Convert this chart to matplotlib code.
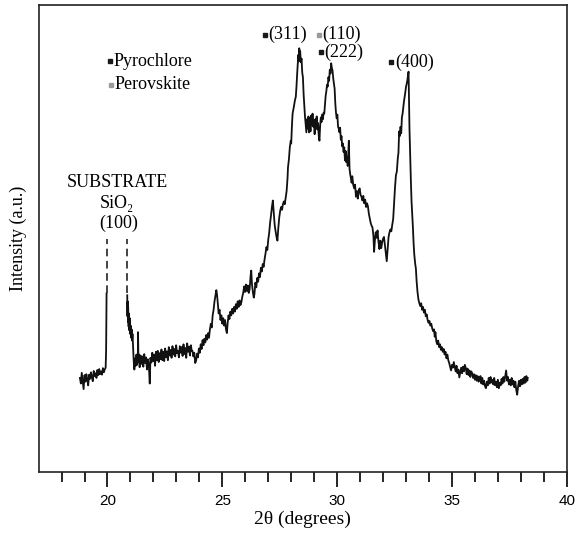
import numpy as np
import matplotlib
matplotlib.use("Agg")
import matplotlib.pyplot as plt
from matplotlib.ticker import MultipleLocator

# scan before the substrate reflection (2theta in degrees, intensity a.u.)
tt_low = [18.80, 18.84, 18.88, 18.92, 18.96, 19.00, 19.04, 19.08, 19.12, 19.16,
          19.20, 19.24, 19.28, 19.32, 19.36, 19.40, 19.44, 19.48, 19.52, 19.56,
          19.60, 19.64, 19.68, 19.72, 19.76, 19.80, 19.84, 19.88, 19.92, 19.94, 19.96]
i_low = [20.2, 19.0, 21.3, 19.6, 17.8, 20.8, 19.4, 21.0, 19.9, 18.6,
         20.9, 20.0, 21.4, 20.3, 19.5, 21.7, 20.6, 21.2, 20.2, 21.9,
         20.8, 22.1, 21.0, 21.6, 20.9, 22.3, 21.4, 22.0, 22.4, 26.0, 38.3]

# scan after the substrate reflection
tt_high = [
    20.86, 20.87, 20.88, 20.89, 20.90, 20.92, 20.93, 20.95, 20.97, 20.99,
    21.01, 21.03, 21.05, 21.07, 21.09, 21.11, 21.14, 21.17, 21.20, 21.23,
    21.26, 21.29, 21.32, 21.33, 21.35, 21.38,
    21.40, 21.44, 21.48, 21.52, 21.56, 21.60, 21.64, 21.68, 21.72, 21.76,
    21.80, 21.84, 21.87, 21.91, 21.95, 21.99, 22.03, 22.07, 22.11, 22.15,
    22.19, 22.23, 22.27, 22.31, 22.35, 22.39, 22.43, 22.47, 22.51, 22.55,
    22.59, 22.63, 22.67, 22.71, 22.75, 22.79, 22.83, 22.87, 22.91, 22.95,
    22.99, 23.03, 23.07, 23.11, 23.15, 23.19, 23.23, 23.27, 23.31, 23.35,
    23.39, 23.43, 23.47, 23.51, 23.55, 23.59, 23.63, 23.67,
    23.70, 23.74, 23.78, 23.82, 23.86, 23.90, 23.94, 23.98, 24.02, 24.06,
    24.10, 24.14, 24.18, 24.22, 24.26, 24.30, 24.34, 24.38, 24.42, 24.46,
    24.50, 24.54, 24.58, 24.62, 24.66, 24.70, 24.74, 24.77, 24.80, 24.84,
    24.88, 24.92, 24.96, 25.00, 25.04, 25.08, 25.12, 25.16, 25.20, 25.23,
    25.27, 25.31, 25.35, 25.39, 25.43, 25.47, 25.51, 25.55, 25.59, 25.63,
    25.67, 25.71, 25.75, 25.79, 25.83, 25.87, 25.91, 25.95, 25.99, 26.03,
    26.07, 26.11, 26.15, 26.19, 26.23, 26.26, 26.29, 26.33, 26.37, 26.40,
    26.44, 26.48, 26.52, 26.56, 26.60, 26.64, 26.68, 26.72, 26.76, 26.80,
    26.84, 26.88, 26.92, 26.96, 27.00, 27.04, 27.08, 27.12, 27.16, 27.20,
    27.24, 27.28, 27.32, 27.36, 27.40, 27.44, 27.48, 27.52, 27.56, 27.60,
    27.64, 27.68, 27.72, 27.76, 27.80, 27.84,
    27.86, 27.90, 27.94, 27.98, 28.00, 28.03, 28.06, 28.09, 28.12, 28.16,
    28.20, 28.23, 28.26, 28.29, 28.31, 28.33, 28.35, 28.37, 28.39, 28.42,
    28.45, 28.48, 28.51, 28.54, 28.57, 28.60, 28.63, 28.66, 28.69, 28.72,
    28.75, 28.78, 28.81, 28.84, 28.87, 28.90, 28.93, 28.96, 28.99, 29.02,
    29.05, 29.08, 29.11, 29.14, 29.17, 29.20, 29.23, 29.26, 29.29, 29.32,
    29.35, 29.38, 29.41, 29.44, 29.47, 29.50, 29.53, 29.56, 29.59, 29.62,
    29.65, 29.68, 29.71, 29.74, 29.77, 29.80, 29.83, 29.86, 29.89, 29.92,
    29.95, 29.98, 30.01, 30.04, 30.07, 30.10, 30.13, 30.16, 30.19, 30.22,
    30.25, 30.28, 30.31, 30.34, 30.37, 30.40, 30.43, 30.46, 30.49, 30.51,
    30.54, 30.57, 30.60, 30.63, 30.66, 30.70, 30.74, 30.78, 30.82, 30.86,
    30.90, 30.94, 30.98, 31.02, 31.06, 31.10, 31.14, 31.18, 31.22, 31.26,
    31.30, 31.34, 31.38, 31.42, 31.46, 31.50, 31.54, 31.58, 31.61, 31.64,
    31.68, 31.72, 31.76, 31.80, 31.84, 31.88, 31.92, 31.96, 32.00, 32.04,
    32.08, 32.12, 32.16, 32.20, 32.24, 32.28, 32.32, 32.36, 32.40, 32.44,
    32.48, 32.52, 32.56, 32.60, 32.64, 32.67, 32.70, 32.73, 32.76, 32.79,
    32.82, 32.85, 32.88, 32.91, 32.94, 32.97, 33.00, 33.03, 33.06, 33.09,
    33.11, 33.13, 33.15, 33.18, 33.21, 33.24, 33.27, 33.30, 33.33, 33.36,
    33.40, 33.43, 33.46, 33.50, 33.54, 33.58, 33.62, 33.66, 33.70, 33.74,
    33.78, 33.82, 33.86, 33.90, 33.94, 33.98, 34.02, 34.06, 34.10, 34.14,
    34.18, 34.22, 34.25, 34.28, 34.32, 34.36, 34.40, 34.44, 34.48, 34.52,
    34.56, 34.60, 34.64, 34.68, 34.72, 34.76, 34.80, 34.84, 34.88, 34.92,
    34.96, 35.00, 35.04, 35.08, 35.12, 35.16, 35.20, 35.24, 35.28, 35.32,
    35.36, 35.40, 35.44, 35.48, 35.52, 35.56, 35.60, 35.64, 35.68, 35.72,
    35.76, 35.80, 35.84, 35.88, 35.92, 35.96, 36.00, 36.04, 36.08, 36.12,
    36.16, 36.20, 36.24, 36.28, 36.32, 36.36, 36.40, 36.44, 36.48, 36.52,
    36.56, 36.60, 36.64, 36.68, 36.72, 36.76, 36.80, 36.84, 36.88, 36.92,
    36.96, 37.00, 37.04, 37.08, 37.12, 37.16, 37.20, 37.24, 37.28, 37.32,
    37.36, 37.40, 37.44, 37.48, 37.52, 37.56, 37.60, 37.64, 37.68, 37.72,
    37.76, 37.80, 37.84, 37.88, 37.92, 37.96, 38.00, 38.04, 38.08, 38.12,
    38.16, 38.20, 38.24, 38.28, 38.30]
i_high = [
    37.9, 33.4, 36.6, 32.2, 35.4, 31.2, 34.0, 30.4, 33.0, 29.6,
    31.4, 28.8, 30.6, 28.2, 29.6, 27.4, 24.0, 22.0, 24.4, 22.8,
    25.2, 23.0, 24.0, 30.0, 23.6, 25.2,
    22.5, 25.0, 23.2, 24.8, 22.6, 25.3, 23.4, 24.6, 22.0, 24.2,
    23.0, 19.0, 24.5, 23.5, 25.6, 23.8, 25.2, 22.8, 25.8, 24.0,
    26.0, 23.6, 25.5, 24.2, 26.3, 24.0, 25.8, 23.8, 26.5, 24.6,
    25.9, 24.0, 26.8, 25.0, 26.2, 24.5, 27.0, 25.2, 26.4, 24.8,
    27.2, 25.5, 26.0, 24.6, 27.0, 25.6, 26.8, 24.9, 27.4, 25.3,
    26.6, 24.5, 27.6, 25.8, 26.9, 25.0, 27.2, 26.0,
    26.0, 24.8, 25.6, 23.4, 23.9, 25.4, 24.6, 26.5, 25.6, 27.4,
    26.4, 28.3, 27.2, 28.6, 27.8, 29.4, 28.4, 29.8, 28.8, 30.6,
    31.8, 31.0, 33.6, 34.8, 36.6, 37.8, 39.0, 38.0, 36.4, 34.0,
    34.8, 32.6, 33.6, 31.8, 33.0, 31.4, 32.6, 30.6, 29.8, 31.8,
    33.6, 32.8, 34.4, 33.6, 35.0, 34.0, 35.4, 34.4, 36.0, 35.0,
    36.6, 35.4, 36.8, 35.8, 36.4, 37.6, 38.4, 39.8, 38.6, 40.2,
    38.8, 40.0, 38.4, 39.2, 42.0, 43.2, 40.4, 38.6, 37.4, 38.2,
    40.6, 39.6, 41.6, 40.8, 42.6, 41.8, 43.8, 43.0, 44.6, 44.0,
    45.6, 46.8, 48.2, 47.6, 49.8, 51.2, 53.4, 55.0, 56.8, 58.2,
    55.6, 53.0, 51.6, 50.4, 49.6, 52.4, 54.6, 56.0, 56.8, 56.2,
    57.4, 58.0, 57.4, 58.8, 60.2, 63.0,
    65.3, 67.0, 69.6, 71.0, 70.4, 74.0, 76.8, 77.6, 78.4, 79.6,
    80.4, 82.6, 85.4, 87.6, 89.4, 88.0, 90.8, 89.2, 90.2, 87.8,
    88.6, 85.6, 84.6, 81.0, 78.4, 76.2, 74.6, 72.8, 75.6, 73.6,
    76.2, 72.8, 75.8, 73.0, 76.4, 74.4, 76.8, 74.0, 75.4, 72.4,
    75.6, 73.8, 76.2, 73.4, 74.8, 72.0, 71.0, 74.2, 76.0, 75.0,
    76.6, 75.6, 77.0, 76.8, 78.6, 80.6, 81.6, 83.0, 82.6, 84.6,
    83.8, 86.2, 85.4, 87.6, 86.6, 86.0, 84.4, 83.2, 82.2, 79.0,
    77.0, 75.8, 76.6, 74.0, 73.6, 72.8, 73.8, 71.2, 72.0, 69.8,
    70.4, 68.6, 69.6, 66.8, 68.8, 66.4, 67.6, 65.6, 69.0, 71.0,
    65.0, 63.8, 63.0, 62.0, 63.4, 61.6, 60.8, 61.6, 59.0, 60.2,
    58.6, 60.4, 60.8, 59.4, 59.0, 58.2, 59.2, 57.6, 58.4, 56.8,
    57.6, 57.0, 55.4, 54.4, 53.4, 52.8, 52.4, 50.6, 47.2, 49.4,
    51.4, 50.2, 51.8, 49.4, 47.8, 49.6, 48.0, 49.2, 50.0, 50.4,
    48.6, 47.0, 45.2, 47.8, 50.4, 51.4, 52.0, 51.6, 53.0, 54.2,
    57.6, 61.0, 63.6, 64.4, 67.2, 68.4, 73.0, 72.0, 74.0, 72.6,
    76.0, 76.8, 78.2, 79.4, 80.4, 81.4, 82.6, 83.2, 84.0, 85.2,
    85.8, 80.0, 73.6, 68.0, 62.6, 58.0, 55.2, 52.4, 49.0, 46.6,
    44.6, 43.6, 41.0, 38.6, 37.0, 36.2, 35.6, 36.2, 34.8, 35.4,
    34.2, 34.8, 33.4, 33.8, 32.6, 32.0, 32.4, 31.4, 31.8, 30.8,
    30.2, 30.6, 29.0, 30.0, 28.0, 27.4, 28.2, 26.8, 27.4, 26.2,
    26.8, 25.8, 26.4, 25.2, 25.8, 24.4, 25.2, 24.0, 23.4, 22.6,
    21.8, 23.0, 22.4, 23.6, 22.6, 21.6, 22.8, 21.2, 22.0, 20.3,
    21.4, 22.4, 21.2, 22.6, 21.6, 23.0, 22.4, 21.0, 22.2, 20.8,
    21.8, 20.4, 21.6, 21.2, 20.2, 21.0, 19.8, 20.8, 19.6, 20.6,
    19.4, 19.8, 20.6, 19.0, 20.2, 18.8, 19.6, 18.4, 18.0, 19.4,
    18.6, 20.2, 19.0, 20.4, 19.2, 19.8, 18.8, 20.2, 18.6, 19.4,
    18.2, 19.8, 18.0, 19.2, 18.6, 20.0, 19.0, 20.4, 19.4, 20.6,
    21.8, 19.6, 20.4, 18.8, 19.8, 18.6, 20.2, 18.8, 19.6, 18.2,
    19.4, 17.6, 16.6, 18.4, 19.6, 18.4, 19.8, 18.8, 20.0, 19.0,
    20.4, 19.2, 20.6, 19.6, 20.2]

# phase legend and peak labels
phase_names = ["Pyrochlore", "Perovskite"]
phase_colors = ["#1a1a1a", "#9a9a9a"]
peak_labels = ["(311)", "(110)", "(222)", "(400)"]
peak_phase = [0, 1, 0, 0]
peak_x = [26.86, 29.21, 29.30, 32.36]
peak_y = [93.7, 93.7, 90.0, 87.8]

# substrate reflection markers
substrate_x = [19.96, 20.85]

serif = ["Liberation Serif", "DejaVu Serif"]

fig = plt.figure(figsize=(5.76, 5.33), dpi=100)
ax = fig.add_axes([0.067, 0.114, 0.917, 0.876])

x = np.array(tt_low + [20.4] + tt_high)
y = np.array(i_low + [np.nan] + i_high)
ax.plot(x, y, color="#111111", lw=1.3)

for sx in substrate_x:
    ax.plot([sx, sx], [38.3, 50.0], color="#111111", lw=1.1, ls=(0, (5, 3)))

ax.text(20.42, 62.0, "SUBSTRATE", ha="center", va="center", fontsize=13, family=serif)
ax.text(20.42, 57.5, "SiO\u2082", ha="center", va="center", fontsize=13, family=serif)
ax.text(20.48, 53.4, "(100)", ha="center", va="center", fontsize=13, family=serif)

def tagged(xp, yp, text, color):
    ax.plot(xp, yp, "s", ms=2.6, color=color, mec=color)
    ax.annotate(text, (xp, yp), xytext=(2.5, 0), textcoords="offset points",
                ha="left", va="center", fontsize=13, family=serif)

tagged(20.13, 88.0, phase_names[0], phase_colors[0])
tagged(20.16, 83.0, phase_names[1], phase_colors[1])
for lab, ph, px, py in zip(peak_labels, peak_phase, peak_x, peak_y):
    tagged(px, py, lab, phase_colors[ph])

ax.set_xlim(17, 40)
ax.set_ylim(0, 100)
ax.xaxis.set_major_locator(MultipleLocator(5))
ax.set_xticks(np.arange(18, 40), minor=True)
ax.tick_params(axis="x", which="major", direction="out", length=10.5, width=1.2,
               pad=5, labelsize=11)
ax.tick_params(axis="x", which="minor", direction="out", length=7.5, width=1.2)
ax.set_yticks([])
for lab in ax.get_xticklabels():
    lab.set_family("Liberation Sans")
for sp in ax.spines.values():
    sp.set_linewidth(1.2)
    sp.set_color("#222222")

ax.set_xlabel("2\u03b8 (degrees)", fontsize=14, family=serif, labelpad=2)
ax.set_ylabel("Intensity (a.u.)", fontsize=13, family=serif, labelpad=8)

fig.savefig("out.png", dpi=100)
